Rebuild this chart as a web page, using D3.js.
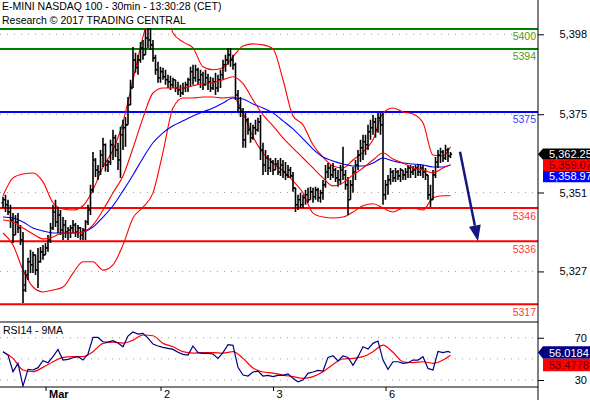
<!DOCTYPE html>
<html>
<head>
<meta charset="utf-8">
<script src="https://cdn.jsdelivr.net/npm/d3@7/dist/d3.min.js"></script>
<style>
  body { margin: 0; background: #fff; }
  svg { display: block; font-family: "Liberation Sans", Arial, sans-serif; }
</style>
</head>
<body>
<div id="chart"></div>
<script>
// 30 min bars, E-mini Nasdaq 100, Feb 28 -> Mar 6
const openP = [
  5347.6,5348.5,5347.0,5344.8,5342.4,5337.9,5341.8,5340.0,5336.4,5322.8,
  5325.8,5329.8,5328.9,5331.9,5327.3,5329.8,5332.8,5331.9,5334.0,5336.4,
  5340.0,5344.8,5341.8,5343.9,5339.4,5340.9,5338.8,5339.4,5340.0,5340.9,
  5338.8,5340.0,5337.9,5339.4,5341.8,5345.4,5351.5,5360.5,5357.5,5356.9,
  5362.0,5365.1,5359.0,5359.9,5365.1,5367.2,5363.5,5360.5,5368.1,5370.2,
  5371.1,5377.1,5382.2,5390.7,5388.3,5390.7,5394.3,5392.2,5397.3,5396.7,
  5395.2,5391.3,5387.7,5385.3,5387.1,5385.6,5384.7,5384.1,5383.2,5384.7,
  5382.2,5381.6,5380.7,5382.2,5383.2,5384.7,5387.1,5385.3,5387.7,5384.7,
  5386.2,5383.2,5385.3,5384.1,5382.2,5384.1,5382.2,5384.7,5386.2,5389.2,
  5390.7,5392.2,5390.7,5389.2,5380.1,5376.2,5375.0,5366.6,5372.6,5369.6,
  5367.2,5370.2,5369.6,5372.0,5363.5,5359.0,5361.1,5358.1,5359.9,5357.5,
  5359.3,5356.9,5359.0,5356.9,5356.0,5357.5,5355.7,5352.1,5347.0,5348.5,
  5347.0,5349.1,5350.0,5348.5,5350.9,5349.4,5351.5,5349.1,5350.6,5353.0,
  5356.9,5358.1,5356.0,5357.5,5355.1,5354.5,5357.5,5356.0,5353.0,5348.5,
  5353.0,5356.9,5359.0,5362.0,5364.2,5366.0,5365.1,5369.0,5370.2,5372.0,
  5369.6,5373.2,5371.1,5350.0,5353.0,5354.5,5356.9,5355.1,5356.9,5355.7,
  5357.5,5356.0,5356.9,5358.1,5356.9,5357.5,5358.1,5356.9,5358.1,5356.9,
  5356.0,5350.0,5348.5,5356.0,5359.9,5362.0,5362.9,5361.1,5363.5,5361.7
];
const highP = [
  5349.4,5350.0,5348.5,5347.0,5344.5,5343.9,5344.5,5340.9,5338.8,5327.3,
  5331.0,5333.4,5332.8,5331.9,5334.0,5334.3,5334.9,5335.5,5337.9,5341.5,
  5347.0,5348.5,5346.3,5345.4,5343.3,5342.4,5340.3,5340.9,5342.4,5341.5,
  5340.9,5340.3,5340.0,5342.4,5347.0,5353.0,5362.9,5361.1,5359.0,5363.5,
  5367.2,5365.5,5360.5,5366.6,5369.6,5368.1,5365.7,5370.5,5372.6,5373.5,
  5379.5,5384.7,5394.6,5392.8,5392.2,5396.1,5396.7,5399.8,5401.0,5400.7,
  5396.7,5392.2,5390.1,5388.6,5388.3,5387.7,5386.2,5385.9,5385.3,5384.7,
  5384.1,5383.2,5383.8,5384.1,5385.3,5388.6,5389.2,5389.2,5388.3,5387.7,
  5387.1,5387.7,5386.5,5385.6,5385.3,5386.8,5386.2,5387.7,5390.7,5392.2,
  5394.3,5394.3,5392.2,5389.8,5381.6,5379.5,5376.2,5374.7,5373.2,5371.7,
  5371.1,5372.6,5373.2,5374.1,5365.7,5363.5,5362.0,5361.1,5360.5,5361.1,
  5360.5,5361.1,5360.5,5359.9,5359.0,5358.4,5356.9,5352.1,5350.0,5350.6,
  5350.0,5351.5,5352.1,5352.4,5352.1,5352.4,5352.1,5351.5,5354.5,5359.0,
  5359.6,5359.0,5359.6,5358.1,5357.5,5359.0,5364.5,5357.5,5355.4,5354.5,
  5358.4,5360.5,5363.5,5366.6,5368.1,5368.1,5371.1,5372.6,5374.1,5373.2,
  5374.7,5374.7,5374.7,5354.5,5356.0,5358.1,5357.5,5358.1,5357.5,5358.1,
  5357.5,5358.1,5359.0,5359.0,5358.7,5359.0,5359.3,5359.0,5359.0,5358.1,
  5356.0,5353.0,5357.5,5361.4,5363.5,5364.2,5363.5,5365.1,5364.2,5362.9
];
const lowP = [
  5346.0,5344.8,5343.9,5340.0,5335.5,5337.9,5338.5,5334.9,5317.4,5320.7,
  5324.3,5326.4,5326.4,5325.8,5321.9,5329.5,5330.4,5331.9,5332.8,5335.5,
  5339.4,5340.3,5338.5,5337.9,5336.4,5337.0,5336.4,5337.0,5338.5,5337.3,
  5337.0,5336.4,5336.4,5336.4,5340.9,5343.9,5350.6,5355.4,5354.5,5356.0,
  5358.4,5357.0,5356.9,5359.0,5360.5,5361.4,5357.5,5355.1,5363.5,5364.5,
  5371.1,5377.1,5382.2,5386.8,5386.2,5389.8,5390.7,5392.2,5394.3,5393.7,
  5390.1,5386.2,5383.8,5383.8,5384.7,5383.2,5382.2,5381.6,5382.2,5381.0,
  5380.1,5379.5,5380.1,5381.0,5381.0,5382.6,5383.2,5384.1,5383.2,5382.2,
  5381.6,5382.9,5381.6,5381.0,5381.6,5380.1,5381.0,5382.2,5384.7,5387.1,
  5389.2,5388.6,5387.7,5378.6,5375.0,5373.5,5364.2,5364.2,5368.1,5365.7,
  5366.6,5368.1,5369.0,5360.5,5356.0,5356.9,5356.0,5356.9,5356.0,5357.5,
  5356.0,5355.7,5355.1,5354.5,5355.1,5355.1,5350.9,5344.8,5345.4,5346.0,
  5346.0,5347.0,5347.6,5348.5,5347.6,5348.5,5347.9,5347.6,5348.5,5352.1,
  5355.1,5354.5,5355.1,5353.9,5352.4,5353.0,5354.5,5351.5,5343.9,5348.5,
  5350.6,5354.5,5357.5,5359.9,5360.5,5362.0,5363.5,5366.6,5368.1,5367.2,
  5368.7,5368.1,5347.0,5348.5,5350.0,5353.0,5353.9,5353.9,5354.5,5353.9,
  5354.5,5354.5,5355.1,5355.1,5356.0,5355.1,5355.7,5355.7,5355.1,5354.5,
  5348.5,5346.3,5348.5,5355.1,5358.1,5359.6,5359.9,5360.5,5359.9,5361.1
];
const closeP = [
  5348.5,5347.0,5344.8,5342.4,5337.9,5341.8,5340.0,5336.4,5321.3,5325.8,
  5329.8,5328.9,5331.9,5327.3,5329.8,5332.8,5331.9,5334.0,5336.4,5340.0,
  5344.8,5341.8,5343.9,5339.4,5340.9,5338.8,5339.4,5340.0,5340.9,5338.8,
  5340.0,5337.9,5339.4,5341.8,5345.4,5351.5,5360.5,5357.5,5356.9,5362.0,
  5365.1,5359.0,5359.9,5365.1,5367.2,5363.5,5360.5,5368.1,5370.2,5371.1,
  5377.1,5382.2,5390.7,5388.3,5390.7,5394.3,5392.2,5397.3,5396.7,5395.2,
  5391.3,5387.7,5385.3,5387.1,5385.6,5384.7,5384.1,5383.2,5384.7,5382.2,
  5381.6,5380.7,5382.2,5383.2,5384.7,5387.1,5385.3,5387.7,5384.7,5386.2,
  5383.2,5385.3,5384.1,5382.2,5384.1,5382.2,5384.7,5386.2,5389.2,5390.7,
  5392.2,5390.7,5389.2,5380.1,5376.2,5375.0,5366.6,5372.6,5369.6,5367.2,
  5370.2,5369.6,5372.0,5363.5,5359.0,5361.1,5358.1,5359.9,5357.5,5359.3,
  5356.9,5359.0,5356.9,5356.0,5357.5,5355.7,5352.1,5347.0,5348.5,5347.0,
  5349.1,5350.0,5348.5,5350.9,5349.4,5351.5,5349.1,5350.6,5353.0,5356.9,
  5358.1,5356.0,5357.5,5355.1,5354.5,5357.5,5356.0,5353.0,5348.5,5353.0,
  5356.9,5359.0,5362.0,5364.2,5366.0,5365.1,5369.0,5370.2,5372.0,5369.6,
  5373.2,5371.1,5350.0,5353.0,5354.5,5356.9,5355.1,5356.9,5355.7,5357.5,
  5356.0,5356.9,5358.1,5356.9,5357.5,5358.1,5356.9,5358.1,5356.9,5356.0,
  5350.0,5348.5,5356.0,5359.9,5362.0,5362.9,5361.1,5363.5,5361.7,5362.25
];

// overlays read every 4 bars (last point = last bar)
const bandIdx = d3.range(0, 180, 4).concat([179]);
const bbUpper = [
  5349.7,5355.1,5356.3,5356.6,5353.9,5347.6,5345.7,5345.4,5346.7,5351.5,
  5358.4,5363.5,5372.0,5384.7,5397.6,5407.3,5407.9,5398.8,5396.1,5394.3,
  5388.6,5387.7,5388.3,5391.6,5394.9,5395.5,5395.2,5394.0,5384.7,5373.8,
  5371.1,5365.1,5361.4,5358.7,5358.1,5360.5,5362.9,5366.6,5374.7,5376.2,
  5375.0,5374.4,5371.7,5362.0,5361.7,5364.5
];
const bbMiddle = [
  5342.4,5341.8,5340.0,5338.2,5336.7,5337.3,5338.5,5338.5,5338.8,5340.9,
  5345.4,5350.6,5355.7,5364.1,5373.2,5380.7,5382.2,5382.2,5382.2,5382.9,
  5383.5,5383.8,5384.7,5385.6,5383.5,5378.6,5374.1,5370.8,5367.2,5364.1,
  5361.1,5358.1,5355.1,5352.7,5353.6,5356.0,5358.1,5360.5,5362.6,5360.8,
  5359.6,5358.1,5357.5,5356.6,5358.1,5359.07
];
const bbLower = [
  5338.5,5334.9,5327.3,5322.2,5320.7,5321.3,5322.2,5326.4,5329.8,5329.8,
  5327.3,5328.9,5334.9,5343.0,5346.3,5350.6,5362.9,5376.2,5379.2,5379.2,
  5379.5,5379.5,5379.2,5379.5,5374.7,5367.5,5362.6,5359.6,5357.2,5354.2,
  5350.6,5344.5,5343.3,5343.0,5343.3,5344.8,5346.7,5347.3,5346.0,5344.8,
  5346.0,5346.0,5345.4,5349.1,5349.7,5349.7
];
const maBlue = [
  5343.3,5343.0,5341.8,5340.0,5339.1,5338.5,5338.5,5338.5,5338.8,5340.3,
  5343.3,5346.7,5351.2,5356.0,5361.1,5365.7,5368.7,5370.8,5372.3,5373.8,
  5375.0,5376.2,5377.7,5379.2,5378.9,5377.4,5376.2,5374.7,5372.3,5369.9,
  5366.9,5363.8,5361.4,5360.2,5359.3,5358.7,5358.7,5359.6,5361.1,5360.2,
  5359.6,5359.3,5359.0,5358.4,5358.4,5358.97
];

// RSI14 read every 2 bars, its 9MA every 4 bars
const rsiIdx = d3.range(0, 180, 2).concat([179]);
const rsi14 = [
  56.8,53.6,37.9,45.8,24.3,40.1,39.5,41.7,48.3,46.4,
  52.1,59.0,48.9,49.5,51.1,52.1,48.9,54.6,70.3,70.3,
  66.2,65.9,67.2,65.0,61.5,71.6,75.4,73.5,74.1,69.7,
  64.0,62.2,60.9,59.9,59.0,56.2,54.3,53.6,62.2,55.9,
  55.2,55.2,54.6,50.5,55.9,63.4,62.8,42.0,34.7,33.8,
  37.6,38.5,33.8,34.4,33.2,34.4,34.4,35.7,31.6,28.4,
  30.0,36.3,37.6,39.1,38.5,51.4,53.0,48.0,52.7,51.4,
  43.9,52.1,61.5,59.3,64.7,66.9,48.9,40.1,47.3,47.3,
  45.8,46.4,48.9,48.9,52.1,41.0,39.5,57.1,55.9,57.1,
  56.0184
];
const rsiMa = [
  56.8,50.5,39.5,37.9,42.0,47.3,51.4,52.1,52.1,56.8,
  64.7,65.9,65.0,67.8,72.6,71.9,64.7,61.5,56.8,55.5,
  55.9,55.9,55.5,56.8,50.5,41.4,37.6,36.6,34.7,33.2,
  31.6,33.2,37.9,44.8,49.9,50.5,52.1,56.8,63.1,56.2,
  47.3,46.4,47.3,45.8,48.9,53.4778
];

const levels = [5400, 5394, 5375, 5346, 5336, 5317];
const levelColors = ["#008000", "#008000", "#0000ff", "#ff0000", "#ff0000", "#ff0000"];
const levelTextColors = ["#4c9a22", "#4c9a22", "#3a3aff", "#ff3a3a", "#ff3a3a", "#ff3a3a"];

const priceTicks = [5398.4, 5374.3, 5350.7, 5326.9];
const priceTickLabels = ["5,398", "5,375", "5,351", "5,327"];
const rsiTicks = [70, 30];
const rsiGrid = [70, 50, 30];

const dayIdx = [17, 63, 108, 153];
const dayLabels = ["Mar", "2", "3", "6"];

const priceTagValues = [5362.25, 5359.07, 5358.97];
const priceTagTexts = ["5,362.25", "5,359.07", "5,358.97"];
const priceTagFill = ["#000000", "#ff0000", "#0000ff"];
const priceTagInk = ["#ffffff", "#600000", "#ffffff"];
const rsiTagValues = [56.0184, 53.4778];
const rsiTagFill = ["#000080", "#ff0000"];
const rsiTagInk = ["#ffffff", "#600000"];

// projected move: from bar 182.8 @ 5363 to bar 190 @ 5336
const arrowFrom = [182.8, 5363];
const arrowTo = [190, 5336];

const W = 590, H = 400;
const plotRight = 538;
const priceTop = 28, priceBottom = 322, rsiBottom = 387;

const svg = d3.select("#chart").append("svg")
  .attr("width", W).attr("height", H);

let x = d3.scaleLinear().domain([0, 179]).range([3, 450.5]);
let y = d3.scaleLinear().domain([5311.65, 5400.3]).range([priceBottom, priceTop]);
let yr = d3.scaleLinear().domain([23.4, 84.9]).range([rsiBottom, priceBottom]);

let defs = svg.append("defs");
defs.append("clipPath").attr("id", "clipPrice").append("rect")
  .attr("x", 0).attr("y", priceTop).attr("width", plotRight).attr("height", priceBottom - priceTop);
defs.append("clipPath").attr("id", "clipRsi").append("rect")
  .attr("x", 0).attr("y", priceBottom).attr("width", plotRight).attr("height", rsiBottom - priceBottom);

// dotted grid
svg.append("g").selectAll("line").data(priceTicks).join("line")
  .attr("x1", 0).attr("x2", plotRight)
  .attr("y1", d => y(d)).attr("y2", d => y(d))
  .attr("stroke", "#a0a0a0").attr("stroke-dasharray", "1,6");
svg.append("g").selectAll("line").data(rsiGrid).join("line")
  .attr("x1", 0).attr("x2", plotRight)
  .attr("y1", d => yr(d)).attr("y2", d => yr(d))
  .attr("stroke", "#a0a0a0").attr("stroke-dasharray", "1,6");

// title
svg.append("text").attr("x", 2).attr("y", 10).attr("font-size", 10.5)
  .text("E-MINI NASDAQ 100 - 30min - 13:30:28 (CET)");
svg.append("text").attr("x", 2).attr("y", 23.5).attr("font-size", 10.5)
  .text("Research \u00a9 2017 TRADING CENTRAL");

// support / resistance levels
let lv = svg.append("g");
lv.selectAll("line").data(levels).join("line")
  .attr("x1", 0).attr("x2", plotRight)
  .attr("y1", d => y(d)).attr("y2", d => y(d))
  .attr("stroke", (d, i) => levelColors[i]).attr("stroke-width", 2);
lv.selectAll("text").data(levels).join("text")
  .attr("x", plotRight - 2).attr("y", d => y(d) + 11.5)
  .attr("text-anchor", "end").attr("font-size", 10.5)
  .attr("fill", (d, i) => levelTextColors[i])
  .text(d => d);

let pricePlot = svg.append("g").attr("clip-path", "url(#clipPrice)");

function overlay(vals, color) {
  let line = d3.line()
    .x((d, i) => x(bandIdx[i]))
    .y(d => y(d))
    .curve(d3.curveMonotoneX);
  pricePlot.append("path").datum(vals)
    .attr("fill", "none").attr("stroke", color).attr("stroke-width", 1.1)
    .attr("d", line);
}
overlay(bbUpper, "#ff0000");
overlay(bbLower, "#ff0000");
overlay(maBlue, "#0000ff");

// OHLC bars
let barPath = "";
for (let i = 0; i < closeP.length; i++) {
  let cx = x(i);
  barPath += "M" + cx + "," + y(highP[i]) + "V" + y(lowP[i]);
  barPath += "M" + (cx - 1.6) + "," + y(openP[i]) + "H" + cx;
  barPath += "M" + cx + "," + y(closeP[i]) + "H" + (cx + 1.6);
}
pricePlot.append("path").attr("d", barPath)
  .attr("fill", "none").attr("stroke", "#000").attr("stroke-width", 1.6);

// middle band drawn over the bars, as in the source
overlay(bbMiddle, "#ff0000");

// arrow
let ax1 = x(arrowFrom[0]), ay1 = y(arrowFrom[1]);
let ax2 = x(arrowTo[0]), ay2 = y(arrowTo[1]);
let ang = Math.atan2(ay2 - ay1, ax2 - ax1);
let headL = 16, headW = 6;
let bx = ax2 - headL * Math.cos(ang), by = ay2 - headL * Math.sin(ang);
svg.append("line")
  .attr("x1", ax1).attr("y1", ay1).attr("x2", bx).attr("y2", by)
  .attr("stroke", "#161680").attr("stroke-width", 2.5);
svg.append("path")
  .attr("d", "M" + ax2 + "," + ay2 +
    "L" + (bx + headW * Math.sin(ang)) + "," + (by - headW * Math.cos(ang)) +
    "L" + (bx - headW * Math.sin(ang)) + "," + (by + headW * Math.cos(ang)) + "Z")
  .attr("fill", "#161680");

// RSI panel
let rsiPlot = svg.append("g").attr("clip-path", "url(#clipRsi)");
rsiPlot.append("path").datum(rsiMa)
  .attr("fill", "none").attr("stroke", "#ff0000").attr("stroke-width", 1.2)
  .attr("d", d3.line().x((d, i) => x(bandIdx[i])).y(d => yr(d)).curve(d3.curveMonotoneX));
rsiPlot.append("path").datum(rsi14)
  .attr("fill", "none").attr("stroke", "#000080").attr("stroke-width", 1.2)
  .attr("d", d3.line().x((d, i) => x(rsiIdx[i])).y(d => yr(d)));
svg.append("text").attr("x", 3).attr("y", 334).attr("font-size", 10.5)
  .text("RSI14 - 9MA");

// frames
svg.append("line").attr("x1", 0).attr("x2", plotRight).attr("y1", priceBottom).attr("y2", priceBottom)
  .attr("stroke", "#000");
svg.append("line").attr("x1", 0).attr("x2", plotRight).attr("y1", rsiBottom).attr("y2", rsiBottom)
  .attr("stroke", "#000");
svg.append("line").attr("x1", plotRight).attr("x2", plotRight).attr("y1", 0).attr("y2", H)
  .attr("stroke", "#000");

// right axes
let yAxis = d3.axisRight(y).tickValues(priceTicks).tickSize(6).tickPadding(0)
  .tickFormat((d, i) => priceTickLabels[i]);
let gy = svg.append("g").attr("transform", "translate(" + plotRight + ",0)").call(yAxis);
let rAxis = d3.axisRight(yr).tickValues(rsiTicks).tickSize(6).tickPadding(0);
let gr = svg.append("g").attr("transform", "translate(" + plotRight + ",0)").call(rAxis);
[gy, gr].forEach(g => {
  g.select(".domain").remove();
  g.selectAll("text").attr("text-anchor", "end").attr("x", 49)
    .attr("font-size", 11).attr("font-family", "Liberation Sans, Arial, sans-serif").attr("fill", "#000");
});

// bottom axis: session starts
let xAxis = d3.axisBottom(x).tickValues(dayIdx).tickSize(4).tickPadding(0)
  .tickFormat((d, i) => dayLabels[i]);
let gx = svg.append("g").attr("transform", "translate(0," + rsiBottom + ")").call(xAxis);
gx.select(".domain").remove();
gx.selectAll("text").attr("text-anchor", "start").attr("dx", 3).attr("dy", 0).attr("y", 11)
  .attr("font-size", 11).attr("font-family", "Liberation Sans, Arial, sans-serif").attr("fill", "#000")
  .attr("font-weight", (d, i) => i === 0 ? "bold" : "normal");

// last value tags (they run past the right edge, as in the source chart)
function drawTags(vals, texts, fills, inks, scale, h) {
  let prevBottom = -Infinity;
  vals.forEach((v, i) => {
    let c = scale(v);
    let top = Math.max(c - h / 2, prevBottom);
    let bottom = top + h;
    prevBottom = bottom;
    let pts;
    if (i === 0) {
      pts = [[plotRight, c], [plotRight + 5, top], [W, top], [W, bottom], [plotRight + 5, bottom]];
    } else {
      pts = [[plotRight + 5, top], [W, top], [W, bottom], [plotRight + 5, bottom]];
    }
    svg.append("polygon").attr("points", pts.map(p => p.join(",")).join(" "))
      .attr("fill", fills[i]);
    svg.append("text").attr("x", plotRight + 11).attr("y", bottom - 2)
      .attr("font-size", 11).attr("fill", inks[i]).text(texts[i]);
  });
}
drawTags(priceTagValues, priceTagTexts, priceTagFill, priceTagInk, y, 11.2);
drawTags(rsiTagValues, rsiTagValues.map(d => d.toFixed(4)), rsiTagFill, rsiTagInk, yr, 12.5);
</script>
</body>
</html>
